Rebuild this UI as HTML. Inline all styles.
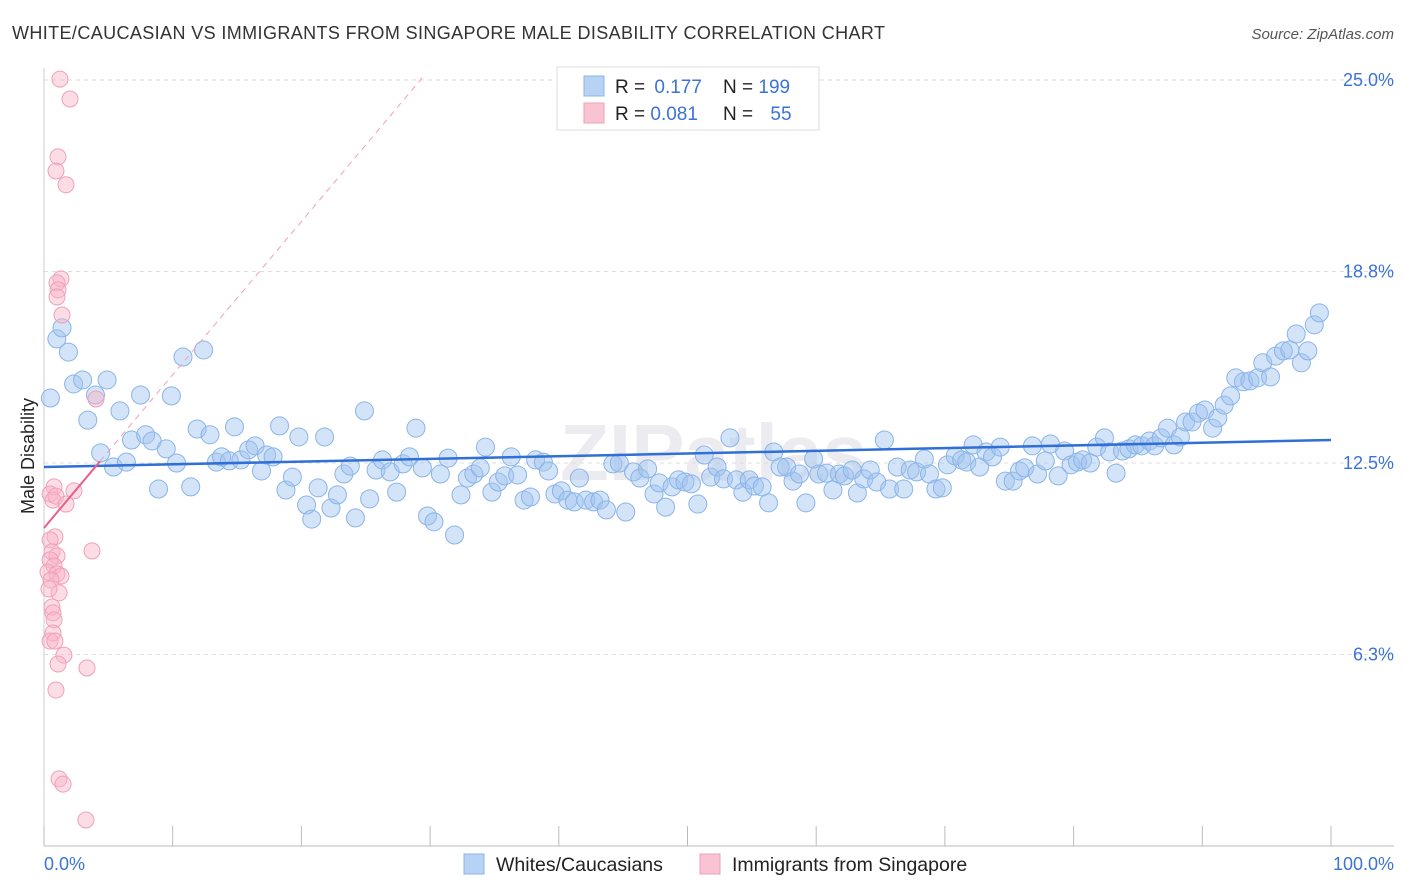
<!DOCTYPE html>
<html><head><meta charset="utf-8">
<style>
body{margin:0;background:#fff;font-family:"Liberation Sans",sans-serif;}
#wrap{position:relative;width:1406px;height:892px;overflow:hidden;}
</style></head>
<body>
<div id="wrap">
<svg id="chart" width="1406" height="892">
<text x="12" y="39" font-size="18" fill="#333" textLength="873" lengthAdjust="spacing">WHITE/CAUCASIAN VS IMMIGRANTS FROM SINGAPORE MALE DISABILITY CORRELATION CHART</text>
<text x="1394" y="39" font-size="15" fill="#555" font-style="italic" text-anchor="end">Source: ZipAtlas.com</text>
<text x="560" y="480" font-size="80" fill="#ececf0" font-weight="bold">ZIPatlas</text>
<g id="grid"></g>
<g id="axes"></g>
<g id="pts"></g>
<g id="lines"></g>
<text transform="translate(34,456) rotate(-90)" font-size="18" fill="#222" text-anchor="middle">Male Disability</text>
<text x="44" y="870" font-size="18" fill="#3b73d6">0.0%</text>
<text x="1394" y="870" font-size="18" fill="#3b73d6" text-anchor="end">100.0%</text>
<g>
<rect x="557" y="67" width="262" height="63" fill="#fff" stroke="#ddd"/>
<rect x="584" y="76" width="20" height="20" fill="#b8d2f4" stroke="#8ab4e8"/>
<rect x="584" y="103" width="20" height="20" fill="#f8c4d4" stroke="#f0a0b8"/>
<text x="615" y="93" font-size="19" fill="#222">R = <tspan fill="#3b73d6" dx="4">0.177</tspan></text>
<text x="723" y="93" font-size="19" fill="#222">N = <tspan fill="#3b73d6">199</tspan></text>
<text x="615" y="120" font-size="19" fill="#222">R = <tspan fill="#3b73d6">0.081</tspan></text>
<text x="723" y="120" font-size="19" fill="#222">N = <tspan fill="#3b73d6" dx="12">55</tspan></text>
</g>
<g>
<rect x="464" y="854" width="20" height="20" fill="#b8d2f4" stroke="#8ab4e8"/>
<text x="496" y="871" font-size="19.5" fill="#222">Whites/Caucasians</text>
<rect x="700" y="854" width="20" height="20" fill="#f8c4d4" stroke="#f0a0b8"/>
<text x="732" y="871" font-size="19.5" fill="#222">Immigrants from Singapore</text>
</g>
</svg>
</div>
<script>
const yTicks=[25,18.75,12.5,6.25];
const yTickLabels=["25.0%","18.8%","12.5%","6.3%"];
const xTicks=[0,10,20,30,40,50,60,70,80,90,100];
const blueX=[0.5,1.0,1.4,1.9,2.3,3.0,3.4,4.0,4.4,4.9,5.4,5.9,6.4,6.8,7.5,7.9,8.4,8.9,9.5,9.9,10.3,10.8,11.4,11.9,12.4,12.9,13.4,13.8,14.4,14.8,15.3,15.9,16.4,16.9,17.3,17.8,18.3,18.8,19.3,19.8,20.4,20.8,21.3,21.8,22.3,22.8,23.3,23.8,24.2,24.9,25.3,25.8,26.3,26.9,27.4,27.9,28.4,28.9,29.4,29.8,30.3,30.8,31.4,31.9,32.4,32.9,33.4,33.9,34.3,34.8,35.3,35.8,36.3,36.8,37.3,37.8,38.2,38.8,39.2,39.7,40.2,40.7,41.2,41.6,42.1,42.7,43.2,43.7,44.2,44.7,45.2,45.8,46.3,46.9,47.4,47.8,48.3,48.8,49.3,49.8,50.3,50.8,51.3,51.8,52.3,52.8,53.3,53.8,54.3,54.8,55.2,55.8,56.3,56.7,57.2,57.7,58.2,58.7,59.2,59.8,60.2,60.8,61.3,61.8,62.2,62.8,63.2,63.7,64.2,64.7,65.3,65.7,66.3,66.8,67.3,67.8,68.4,68.8,69.3,69.8,70.2,70.8,71.3,71.7,72.2,72.7,73.2,73.7,74.3,74.7,75.3,75.8,76.2,76.8,77.2,77.8,78.2,78.8,79.3,79.8,80.3,80.7,81.3,81.8,82.4,82.8,83.3,83.8,84.3,84.8,85.3,85.9,86.3,86.8,87.3,87.8,88.3,88.7,89.2,89.7,90.2,90.8,91.2,91.7,92.2,92.6,93.2,93.7,94.3,94.7,95.3,95.7,96.3,96.8,97.3,97.7,98.2,98.7,99.1];
const blueY=[14.62,16.55,16.91,16.12,15.08,15.21,13.90,14.72,12.83,15.21,12.37,14.20,12.53,13.25,14.72,13.42,13.22,11.65,12.96,14.69,12.50,15.96,11.72,13.61,16.19,13.42,12.53,12.70,12.57,13.68,12.60,12.93,13.06,12.24,12.76,12.70,13.71,11.62,12.04,13.35,11.13,10.67,11.69,13.35,11.03,11.46,12.14,12.40,10.71,14.20,11.33,12.27,12.60,12.21,11.55,12.47,12.70,13.64,12.34,10.77,10.58,12.14,12.66,10.15,11.46,12.01,12.14,12.34,13.02,11.55,11.88,12.08,12.70,12.11,11.29,11.39,12.60,12.53,12.24,11.49,11.59,11.29,11.23,12.01,11.29,11.23,11.29,10.97,12.47,12.50,10.90,12.21,12.01,12.31,11.49,11.85,11.06,11.72,11.95,11.88,11.82,11.16,12.76,12.04,12.37,11.98,13.32,11.95,11.55,11.95,11.75,11.72,11.20,12.86,12.37,12.37,11.91,12.14,11.20,12.63,12.14,12.17,11.62,12.14,12.08,12.27,11.52,11.98,12.27,11.88,13.25,11.65,12.37,11.65,12.27,12.21,12.63,12.14,11.65,11.69,12.44,12.73,12.60,12.53,13.09,12.37,12.86,12.70,13.02,11.91,11.91,12.24,12.34,13.06,12.14,12.57,13.12,12.08,12.89,12.44,12.53,12.60,12.50,13.02,13.32,12.86,12.17,12.89,12.96,13.09,13.06,13.22,13.06,13.32,13.64,13.09,13.35,13.84,13.84,14.13,14.23,13.64,13.97,14.39,14.69,15.28,15.15,15.18,15.28,15.77,15.31,15.99,16.16,16.19,16.71,15.77,16.16,17.01,17.40];
const pinkX=[1.24,2.02,1.09,0.93,1.71,1.32,1.01,1.09,1.01,1.40,4.04,0.78,0.47,0.70,0.93,1.71,2.33,0.85,0.47,0.62,1.01,3.73,0.47,0.78,0.31,1.01,1.32,0.54,1.17,0.39,0.62,0.70,0.78,0.70,0.47,0.85,1.55,1.09,3.34,0.93,1.17,1.48,3.26];
const pinkY=[25.03,24.38,22.49,22.03,21.58,18.51,18.38,18.15,17.92,17.33,14.59,11.72,11.49,11.29,11.42,11.16,11.59,10.09,9.99,9.60,9.47,9.63,9.34,9.14,8.94,8.88,8.81,8.68,8.26,8.39,7.80,7.61,7.38,6.95,6.69,6.69,6.23,5.94,5.81,5.09,2.19,2.02,0.85];
const blueLine=[12.37,13.25];
const pinkIntercept=10.38, pinkSlope=0.5, pinkSolidEnd=4.35, pinkDashEnd=29.6;

const NS="http://www.w3.org/2000/svg";
const X0=44,X1=1331,Y0=846,YPER=30.64;
const sx=v=>X0+(X1-X0)*v/100;
const sy=v=>Y0-v*YPER;
function mk(tag,attrs,parent){const e=document.createElementNS(NS,tag);for(const k in attrs)e.setAttribute(k,attrs[k]);parent.appendChild(e);return e;}
const grid=document.getElementById('grid'),axes=document.getElementById('axes'),pts=document.getElementById('pts'),lines=document.getElementById('lines');
yTicks.forEach((t,i)=>{
  const l=mk('line',{x1:X0,x2:1394,y1:sy(t),y2:sy(t),stroke:'#ddd','stroke-dasharray':'4,4'},grid);
  
  
  const tx=mk('text',{x:1394,y:sy(t)+6,'font-size':18,fill:'#3b73d6','text-anchor':'end'},grid);
  tx.textContent=yTickLabels[i];
  
  
});
const xa=mk('line',{x1:X0,x2:1394,y1:846,y2:846,stroke:'#bbb'},axes);


const ya=mk('line',{x1:X0,x2:X0,y1:68,y2:846,stroke:'#ccc'},axes);


xTicks.forEach(t=>{
  const l=mk('line',{x1:sx(t),x2:sx(t),y1:826,y2:846,stroke:'#bbb'},axes);
  
  
});
blueX.forEach((v,i)=>{
  const c=mk('circle',{cx:sx(v),cy:sy(blueY[i]),r:9,fill:'rgba(160,196,240,0.45)',stroke:'#8ab4e8','stroke-width':1},pts);
  
  
});
pinkX.forEach((v,i)=>{
  const c=mk('circle',{cx:sx(v),cy:sy(pinkY[i]),r:8,fill:'rgba(248,180,200,0.45)',stroke:'#f0a0b8','stroke-width':1},pts);
  
  
});
const bl=mk('line',{x1:sx(0),y1:sy(blueLine[0]),x2:sx(100),y2:sy(blueLine[1]),stroke:'#2f6fd6','stroke-width':2.5},lines);


const pd=mk('line',{x1:sx(pinkSolidEnd),y1:sy(pinkIntercept+pinkSlope*pinkSolidEnd),x2:sx(pinkDashEnd),y2:sy(pinkIntercept+pinkSlope*pinkDashEnd),stroke:'#f0a0b8','stroke-width':1,'stroke-dasharray':'6,5'},lines);


const ps=mk('line',{x1:sx(0),y1:sy(pinkIntercept),x2:sx(pinkSolidEnd),y2:sy(pinkIntercept+pinkSlope*pinkSolidEnd),stroke:'#e8608a','stroke-width':2},lines);


</script>
</body></html>
